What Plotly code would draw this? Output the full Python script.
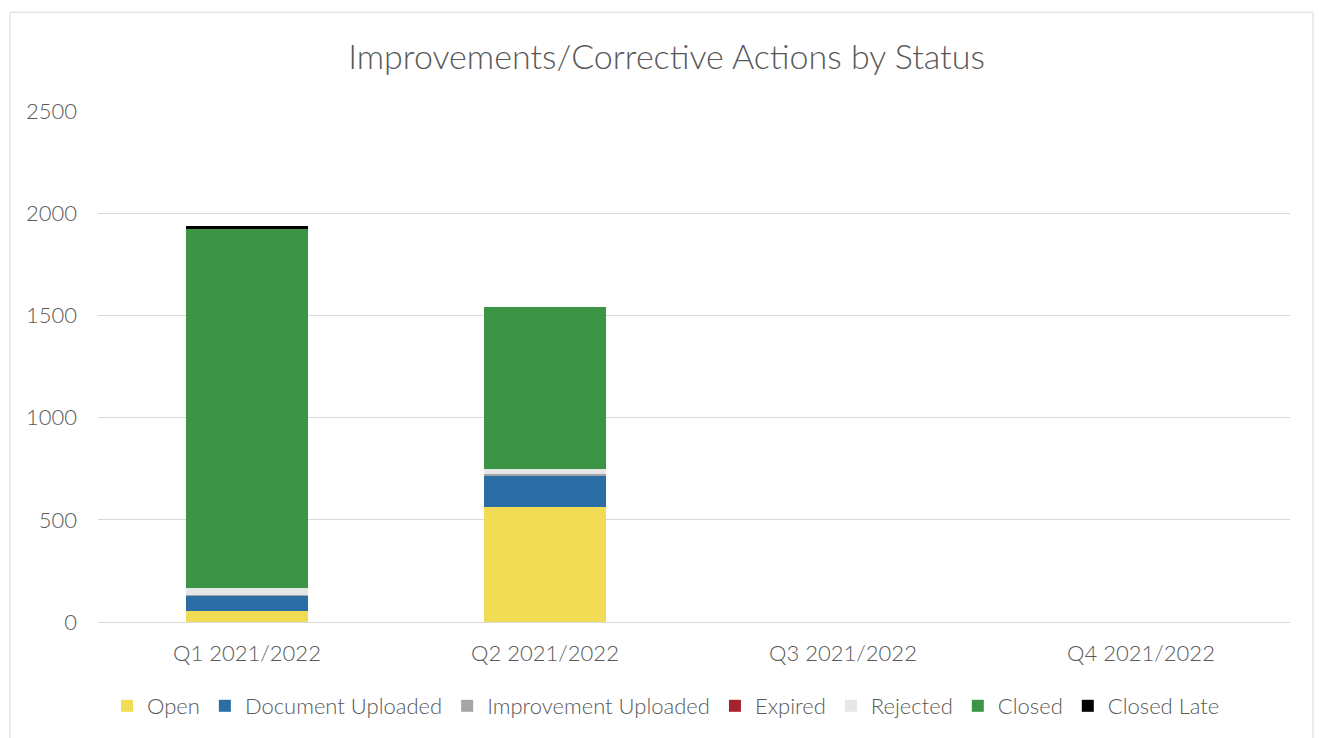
import plotly.graph_objects as go

quarters = ["Q1 2021/2022", "Q2 2021/2022", "Q3 2021/2022", "Q4 2021/2022"]
open_vals = [55, 565, 0, 0]
doc_uploaded = [75, 154, 0, 0]
impr_uploaded = [2, 3, 0, 0]
expired = [0, 0, 0, 0]
rejected = [34, 26, 0, 0]
closed = [1758, 791, 0, 0]
closed_late = [11, 0, 0, 0]

series = [
    ("Open", open_vals, "#F3DC55"),
    ("Document Uploaded", doc_uploaded, "#2B6EA6"),
    ("Improvement Uploaded", impr_uploaded, "#A5A5A5"),
    ("Expired", expired, "#A5232A"),
    ("Rejected", rejected, "#E6E6E6"),
    ("Closed", closed, "#3C9446"),
    ("Closed Late", closed_late, "#000000"),
]

FONT = "Lato"
# page has an 8px body margin; figure coordinates = reference - 8
W, H = 1317, 730
L, R, T, B = 90, 1282, 103, 615
PW, PH = R - L, B - T

fig = go.Figure()
for name, vals, col in series:
    fig.add_trace(go.Bar(name=name, x=quarters, y=vals, marker_color=col,
                         marker_line_width=0))

fig.update_layout(
    barmode="stack",
    bargap=0.59,
    width=W, height=H,
    margin=dict(l=L, r=W - R, t=T, b=H - B),
    paper_bgcolor="white", plot_bgcolor="white",
    font=dict(family=FONT, color="#595959", size=22),
    title=dict(text="Improvements/Corrective Actions by Status", x=0.5, xanchor="center",
               y=1 - 49 / H, yanchor="middle",
               font=dict(family=FONT, size=34, color="#595959", weight=300)),
    legend=dict(orientation="h", x=0.5 - 28 / PW, xanchor="center", y=-83 / PH, yanchor="middle",
                font=dict(family=FONT, size=22, color="#595959", weight=300),
                traceorder="normal", itemwidth=30, tracegroupgap=0),
    showlegend=True,
)
fig.update_yaxes(range=[0, 2500], dtick=500, showgrid=True, gridcolor="#D9D9D9", gridwidth=1,
                 zeroline=False, showline=False, tickfont=dict(size=22, weight=300),
                 ticklabelstandoff=20)
fig.update_xaxes(showline=True, linecolor="#D9D9D9", linewidth=1, showgrid=False,
                 tickfont=dict(size=22, weight=300), ticklabelstandoff=12)

# outer chart frame
fig.add_shape(type="rect", xref="paper", yref="paper",
              x0=(2 - L) / PW, x1=(1305 - L) / PW,
              y0=(B - 760) / PH, y1=(B - 4) / PH,
              line=dict(color="#D9D9D9", width=1), layer="below")

fig.write_html("out.html")
